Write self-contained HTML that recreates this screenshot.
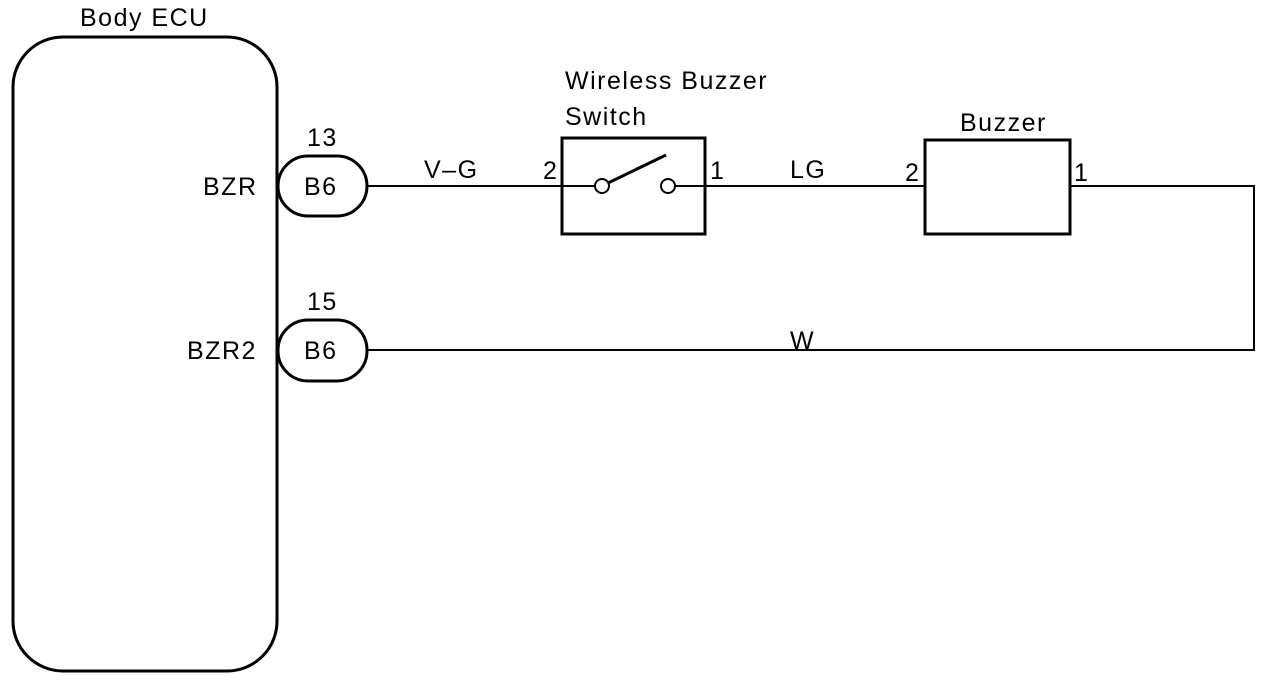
<!DOCTYPE html>
<html><head><style>body{margin:0;background:#fff}</style></head><body>
<svg width="1280" height="680" xmlns="http://www.w3.org/2000/svg" font-family="Liberation Sans, sans-serif" font-size="25" letter-spacing="1.5" fill="#000">
<rect x="13" y="37" width="264" height="634" rx="50" fill="none" stroke="#000" stroke-width="3"/>
<text x="80" y="26">Body ECU</text>
<text x="203" y="195">BZR</text>
<text x="187" y="359">BZR2</text>
<rect x="278" y="156" width="89" height="60" rx="30" fill="#fff" stroke="#000" stroke-width="3"/>
<rect x="278" y="320" width="89" height="61" rx="30" fill="#fff" stroke="#000" stroke-width="3"/>
<text x="304" y="195">B6</text>
<text x="304" y="359">B6</text>
<text x="307" y="146">13</text>
<text x="307" y="310">15</text>
<g stroke="#000" stroke-width="2" fill="none">
<line x1="367" y1="186" x2="595" y2="186"/>
<line x1="675" y1="186" x2="925" y2="186"/>
<polyline points="1070,186 1254,186 1254,350 367,350"/>
<line x1="608" y1="183" x2="666" y2="155" stroke-width="3"/>
<circle cx="602" cy="186" r="7" fill="#fff"/>
<circle cx="668" cy="186" r="7" fill="#fff"/>
</g>
<rect x="562" y="138" width="143" height="96" fill="none" stroke="#000" stroke-width="3"/>
<rect x="925" y="140" width="145" height="94" fill="none" stroke="#000" stroke-width="3"/>
<text x="565" y="89">Wireless Buzzer</text>
<text x="565" y="125">Switch</text>
<text x="960" y="131">Buzzer</text>
<text x="424" y="178">V–G</text>
<text x="543" y="179">2</text>
<text x="710" y="179">1</text>
<text x="790" y="178">LG</text>
<text x="905" y="181">2</text>
<text x="1074" y="181">1</text>
<text x="790" y="349">W</text>
</svg>
</body></html>
